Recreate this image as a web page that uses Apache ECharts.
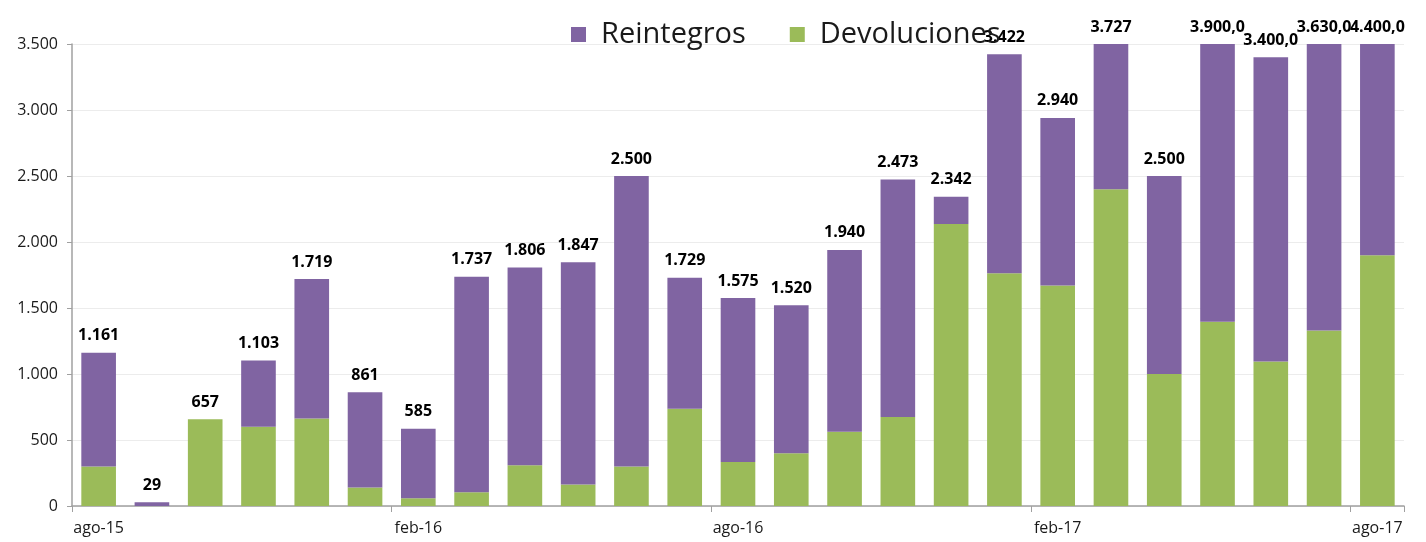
<!DOCTYPE html>
<html>
<head>
<meta charset="utf-8">
<script src="https://cdn.jsdelivr.net/npm/echarts@6/dist/echarts.min.js"></script>
<style>
  html, body { margin: 0; padding: 0; background: #fff; }
  #chart { width: 1426px; height: 542px; }
</style>
</head>
<body>
<div id="chart"></div>
<script>
// categories (monthly, ago-15 .. ago-17)
const months = ["ago-15","sep-15","oct-15","nov-15","dic-15","ene-16","feb-16","mar-16","abr-16","may-16","jun-16","jul-16",
  "ago-16","sep-16","oct-16","nov-16","dic-16","ene-17","feb-17","mar-17","abr-17","may-17","jun-17","jul-17","ago-17"];
const devoluciones = [300, 0, 657, 600, 663, 140, 58, 105, 308, 163, 300, 737, 334, 400, 563, 674, 2137, 1763, 1671, 2400, 1000, 1395, 1095, 1330, 1900];
const reintegros   = [861, 29, 0, 503, 1056, 721, 527, 1632, 1498, 1684, 2200, 992, 1241, 1120, 1377, 1799, 205, 1659, 1269, 1327, 1500, 2505, 2305, 2300, 2500];
// decimals shown in the total label of each bar
const labelDecimals = [0,0,0,0,0,0,0,0,0,0,0,0,0,0,0,0,0,0,0,0,0,1,1,1,1];
const yTicks = { min: 0, max: 3500, interval: 500 };

const C = { purple: "#8064a2", green: "#9bbb59", text: "#1a1a1a", axis: "#a0a0a0", grid: "#ececec" };

// es-AR style: "." thousands, "," decimals
const fmtNum = (v, dec) => {
  const parts = v.toFixed(dec).split(".");
  const int = parts[0].replace(/\B(?=(\d{3})+(?!\d))/g, ".");
  return parts[1] ? int + "," + parts[1] : int;
};
const totals = months.map((_, i) => devoluciones[i] + reintegros[i]);

const chart = echarts.init(document.getElementById("chart"), null, { renderer: "canvas" });
chart.setOption({
  animation: false,
  textStyle: { fontFamily: "Open Sans" },
  grid: { left: 72, right: 22, top: 44, bottom: 36 },
  legend: {
    left: 566, top: 15, itemWidth: 15, itemHeight: 15, itemGap: 44, icon: "rect",
    textStyle: { fontSize: 29, color: C.text, fontFamily: "Open Sans", padding: [0, 0, 0, 10] },
    data: ["Reintegros", "Devoluciones"]
  },
  xAxis: {
    type: "category", data: months, boundaryGap: true,
    axisLine: { lineStyle: { color: C.axis, width: 1.5 } },
    axisTick: { show: true, interval: 5, length: 6, lineStyle: { color: C.axis } },
    axisLabel: { interval: 5, color: C.text, fontSize: 16, margin: 14 }
  },
  yAxis: {
    type: "value", ...yTicks,
    axisLine: { show: true, lineStyle: { color: C.axis, width: 1.5 } },
    axisTick: { show: true, length: 5, lineStyle: { color: C.axis } },
    axisLabel: { color: C.text, fontSize: 16, margin: 14, formatter: v => fmtNum(v, 0) },
    splitLine: { lineStyle: { color: C.grid } }
  },
  series: [
    { name: "Devoluciones", type: "bar", stack: "t", data: devoluciones, barWidth: "65%",
      itemStyle: { color: C.green } },
    { name: "Reintegros", type: "bar", stack: "t", data: reintegros, barWidth: "65%",
      itemStyle: { color: C.purple },
      label: {
        show: true, position: "top", distance: 9, color: "#000", fontWeight: "bold", fontSize: 16,
        formatter: p => fmtNum(totals[p.dataIndex], labelDecimals[p.dataIndex])
      } }
  ]
});
</script>
</body>
</html>
